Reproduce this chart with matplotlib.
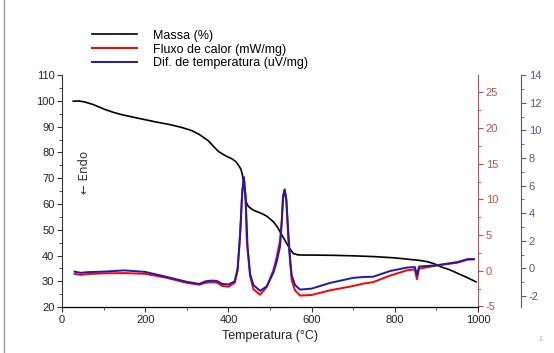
import matplotlib.pyplot as plt
from matplotlib.lines import Line2D
import numpy as np

# ---- data -----------------------------------------------------------------
# mass loss (left axis, %)
T_mass = [27, 40, 55, 75, 103, 125, 143, 180, 224, 260, 288, 310, 330, 352,
          365, 376, 392, 408, 418, 424, 430, 434, 438, 442, 448, 460, 480,
          492, 508, 518, 524, 532, 540, 548, 556, 566, 580, 600, 650, 700,
          750, 800, 831, 860, 879, 895, 911, 930, 951, 972, 995]
mass = [99.9, 100.0, 99.6, 98.6, 96.7, 95.5, 94.7, 93.4, 91.9, 90.8, 89.7,
        88.6, 87.0, 84.5, 82.2, 80.4, 78.8, 77.6, 76.4, 75.1, 73.5, 71.0,
        66.0, 61.0, 59.0, 57.6, 56.3, 55.3, 53.1, 51.0, 49.2, 47.0, 44.7,
        42.5, 40.8, 40.3, 40.2, 40.2, 40.1, 39.9, 39.6, 39.1, 38.6, 38.1,
        37.6, 36.8, 35.6, 34.6, 33.1, 31.6, 29.8]

# heat flow (red axis, mW/mg)
T_hf = [30, 45, 60, 100, 150, 200, 250, 300, 330, 345, 360, 372, 385, 400,
        415, 422, 428, 433, 437, 441, 444, 446, 452, 460, 476, 492, 508, 516,
        524, 528, 531, 535, 539, 544, 548, 552, 560, 572, 600, 644, 700, 724,
        748, 788, 830, 848, 853, 858, 900, 950, 975, 990]
heat_flow = [-0.44, -0.58, -0.48, -0.37, -0.33, -0.44, -0.98, -1.70, -1.96,
             -1.70, -1.59, -1.66, -2.14, -2.25, -1.70, 0.0, 5.0, 11.0, 13.1,
             10.5, 4.3, 3.0, -0.76, -2.6, -3.37, -2.28, 0.07, 1.9, 4.26, 7.0,
             10.5, 11.4, 10.0, 4.3, 1.44, -1.34, -2.75, -3.48, -3.40, -2.75,
             -2.14, -1.81, -1.60, -0.69, 0.07, 0.18, -1.20, 0.28, 0.72, 1.12,
             1.55, 1.59]

# temperature difference (blue axis, uV/mg)
T_dt = [30, 45, 60, 100, 150, 200, 250, 300, 330, 345, 360, 372, 385, 400,
        415, 422, 428, 433, 437, 441, 446, 452, 460, 476, 492, 508, 516, 524,
        528, 531, 535, 539, 543, 548, 552, 560, 572, 600, 644, 700, 724, 748,
        788, 830, 848, 853, 858, 900, 950, 975, 990]
dif_temp = [-0.23, -0.32, -0.27, -0.23, -0.14, -0.25, -0.60, -0.97, -1.12,
            -0.93, -0.88, -0.90, -1.12, -1.16, -0.93, 0.0, 2.5, 5.5, 6.6,
            5.2, 1.5, -0.4, -1.2, -1.62, -1.3, -0.3, 0.5, 1.6, 3.3, 5.0, 5.7,
            5.0, 3.0, 0.7, -0.5, -1.2, -1.53, -1.46, -1.05, -0.68, -0.62,
            -0.60, -0.19, 0.07, 0.10, -0.49, 0.14, 0.23, 0.46, 0.68, 0.68]

RED_AX = "#c0504d"
BLUE_AX = "#5555a0"

plt.rcParams["font.family"] = ["Liberation Sans", "DejaVu Sans"]
plt.rcParams["axes.unicode_minus"] = False
fig = plt.figure(figsize=(5.54, 3.53), dpi=100)
ax = fig.add_axes([0.112, 0.130, 0.751, 0.657])
ax_r = ax.twinx()
ax_b = ax.twinx()

ax.plot(T_mass, mass, color="black", lw=1.2)
ax_r.plot(T_hf, heat_flow, color="red", lw=1.4)
ax_b.plot(T_dt, dif_temp, color="#1a1ab4", lw=1.4)

ax.set_xlim(0, 1000)
ax.set_ylim(20, 110)
ax_r.set_ylim(-5.1, 27.4)
ax_b.set_ylim(-2.8, 14.0)

ax.set_xticks(np.arange(0, 1001, 200))
ax.set_xticks(np.arange(0, 1001, 100), minor=True)
ax.set_yticks(np.arange(20, 111, 10))
ax.set_yticks(np.arange(20, 111, 5), minor=True)
ax_r.set_yticks(np.arange(-5, 26, 5))
ax_r.set_yticks(np.arange(-5, 27.5, 2.5), minor=True)
ax_b.set_yticks(np.arange(-2, 15, 2))
ax_b.set_yticks(np.arange(-2, 15, 1), minor=True)

for a in (ax, ax_r, ax_b):
    a.spines["top"].set_visible(False)
ax.spines["right"].set_visible(False)
ax_r.spines["left"].set_visible(False)
ax_b.spines["left"].set_visible(False)
ax_b.spines["right"].set_position(("axes", 1.103))
ax.spines["left"].set_color("#333333")
ax.spines["bottom"].set_color("#333333")
ax_r.spines["right"].set_color(RED_AX)
ax_b.spines["right"].set_color(BLUE_AX)

ax.tick_params(which="both", direction="out", labelsize=8, colors="#333333",
               labelcolor="#222222", pad=2)
ax_r.tick_params(which="both", colors=RED_AX, labelsize=8, pad=2)
ax_b.tick_params(which="both", colors=BLUE_AX, labelsize=8, pad=2)
for a in (ax, ax_r, ax_b):
    a.tick_params(which="major", length=3.5)
    a.tick_params(which="minor", length=2)

ax.set_xlabel("Temperatura (°C)", fontsize=9, color="#222222", labelpad=4)
ax.text(0.055, 0.58, "\u2190 Endo", transform=ax.transAxes, rotation=90,
        ha="center", va="center", fontsize=8.5, color="#333333",
        family="DejaVu Sans")

handles = [Line2D([], [], color="black", lw=1.2),
           Line2D([], [], color="red", lw=1.4),
           Line2D([], [], color="#1a1ab4", lw=1.4)]
labels = ["Massa (%)", "Fluxo de calor (mW/mg)", "Dif. de temperatura (uV/mg)"]
fig.legend(handles, labels, loc="upper left", bbox_to_anchor=(0.157, 0.93),
           frameon=False, fontsize=9, handlelength=3.6, handletextpad=1.3,
           labelspacing=0.15, borderaxespad=0)

# page frame and page number
fig.add_artist(Line2D([0.008, 0.008], [0.0, 1.0], color="#999999", lw=1,
                      transform=fig.transFigure))
fig.text(0.975, 0.035, "1", fontsize=5, color="#aaaaaa", ha="center")

fig.savefig("out.png", dpi=100)
